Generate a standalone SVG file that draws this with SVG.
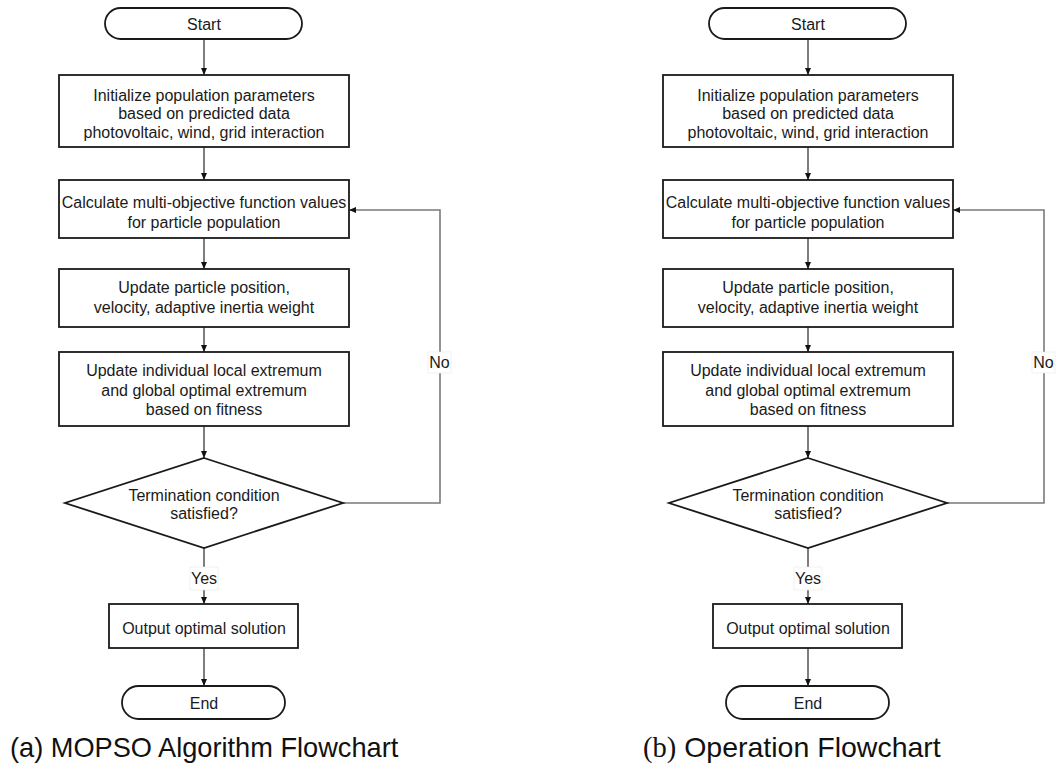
<svg xmlns="http://www.w3.org/2000/svg" width="1057" height="767" viewBox="0 0 1057 767">
<defs>
<style>
.box{fill:#fff;stroke:#1a1a1a;stroke-width:1.8}
.t{font-family:"Liberation Sans",Arial,sans-serif;font-size:16px;fill:#1a1a1a;text-anchor:middle}
.lbl{font-family:"Liberation Sans",Arial,sans-serif;font-size:16px;fill:#1a1a1a;text-anchor:middle}
.lblbg{fill:#fff;stroke:#e6e6e6;stroke-width:0.6}
.arr{fill:none;stroke:#3a3a3a;stroke-width:1.3;marker-end:url(#ah)}
.loop{fill:none;stroke:#7a7a7a;stroke-width:1.6;marker-end:url(#ah)}
.cap{font-family:"Liberation Sans",Arial,sans-serif;fill:#111}
.capserif{font-family:"Liberation Serif","Times New Roman",serif}
</style>
<marker id="ah" viewBox="0 0 7 6" refX="7" refY="3" markerWidth="7" markerHeight="6" markerUnits="userSpaceOnUse" orient="auto">
<path d="M0,0 L7,3 L0,6 z" fill="#111"/>
</marker>
</defs>
<rect width="1057" height="767" fill="#fff"/>

<!-- (a) MOPSO flowchart -->
<g id="chart-a">
<g id="a-connectors">
<path class="arr" d="M204,39 V75"/>
<path class="arr" d="M204,147 V180"/>
<path class="arr" d="M204,238 V269"/>
<path class="arr" d="M204,327 V352"/>
<path class="arr" d="M204,426 V458"/>
<path class="arr" d="M204,548 V604"/>
<path class="arr" d="M204,648 V686"/>
<path class="loop" d="M343,503 H440 V210 H349"/>
<rect class="lblbg" x="428" y="352" width="23" height="21"/>
<text class="lbl" x="439.5" y="368">No</text>
<rect class="lblbg" x="190" y="567" width="28" height="23"/>
<text class="lbl" x="204" y="584">Yes</text>
</g>
<g id="a-start">
<rect class="box" x="105" y="8" width="197" height="31" rx="15.5"/>
<text class="t" x="204" y="29.5">Start</text>
</g>
<g id="a-init">
<rect class="box" x="59" y="75" width="290" height="72"/>
<text class="t" x="204" y="100.5">Initialize population parameters</text>
<text class="t" x="204" y="119">based on predicted data</text>
<text class="t" x="204" y="137.5">photovoltaic, wind, grid interaction</text>
</g>
<g id="a-calc">
<rect class="box" x="59" y="180" width="290" height="58"/>
<text class="t" x="204" y="207.5">Calculate multi-objective function values</text>
<text class="t" x="204" y="227.5">for particle population</text>
</g>
<g id="a-update">
<rect class="box" x="59" y="269" width="290" height="58"/>
<text class="t" x="204" y="293">Update particle position,</text>
<text class="t" x="204" y="313">velocity, adaptive inertia weight</text>
</g>
<g id="a-extremum">
<rect class="box" x="59" y="352" width="290" height="74"/>
<text class="t" x="204" y="376">Update individual local extremum</text>
<text class="t" x="204" y="395.5">and global optimal extremum</text>
<text class="t" x="204" y="415">based on fitness</text>
</g>
<g id="a-decision">
<polygon class="box" points="204,458 343,503 204,548 65,503"/>
<text class="t" x="204" y="501">Termination condition</text>
<text class="t" x="204" y="519">satisfied?</text>
</g>
<g id="a-output">
<rect class="box" x="109" y="604" width="189" height="44"/>
<text class="t" x="204" y="633.5">Output optimal solution</text>
</g>
<g id="a-end">
<rect class="box" x="122" y="686" width="163" height="33" rx="16.5"/>
<text class="t" x="204" y="708.5">End</text>
</g>
<text id="a-caption" class="cap" x="10" y="757" font-size="27.2">(a) MOPSO Algorithm Flowchart</text>
</g>

<!-- (b) Operation flowchart -->
<g id="chart-b" transform="translate(604,0)">
<g id="b-connectors">
<path class="arr" d="M204,39 V75"/>
<path class="arr" d="M204,147 V180"/>
<path class="arr" d="M204,238 V269"/>
<path class="arr" d="M204,327 V352"/>
<path class="arr" d="M204,426 V458"/>
<path class="arr" d="M204,548 V604"/>
<path class="arr" d="M204,648 V686"/>
<path class="loop" d="M343,503 H440 V210 H349"/>
<rect class="lblbg" x="428" y="352" width="23" height="21"/>
<text class="lbl" x="439.5" y="368">No</text>
<rect class="lblbg" x="190" y="567" width="28" height="23"/>
<text class="lbl" x="204" y="584">Yes</text>
</g>
<g id="b-start">
<rect class="box" x="105" y="8" width="197" height="31" rx="15.5"/>
<text class="t" x="204" y="29.5">Start</text>
</g>
<g id="b-init">
<rect class="box" x="59" y="75" width="290" height="72"/>
<text class="t" x="204" y="100.5">Initialize population parameters</text>
<text class="t" x="204" y="119">based on predicted data</text>
<text class="t" x="204" y="137.5">photovoltaic, wind, grid interaction</text>
</g>
<g id="b-calc">
<rect class="box" x="59" y="180" width="290" height="58"/>
<text class="t" x="204" y="207.5">Calculate multi-objective function values</text>
<text class="t" x="204" y="227.5">for particle population</text>
</g>
<g id="b-update">
<rect class="box" x="59" y="269" width="290" height="58"/>
<text class="t" x="204" y="293">Update particle position,</text>
<text class="t" x="204" y="313">velocity, adaptive inertia weight</text>
</g>
<g id="b-extremum">
<rect class="box" x="59" y="352" width="290" height="74"/>
<text class="t" x="204" y="376">Update individual local extremum</text>
<text class="t" x="204" y="395.5">and global optimal extremum</text>
<text class="t" x="204" y="415">based on fitness</text>
</g>
<g id="b-decision">
<polygon class="box" points="204,458 343,503 204,548 65,503"/>
<text class="t" x="204" y="501">Termination condition</text>
<text class="t" x="204" y="519">satisfied?</text>
</g>
<g id="b-output">
<rect class="box" x="109" y="604" width="189" height="44"/>
<text class="t" x="204" y="633.5">Output optimal solution</text>
</g>
<g id="b-end">
<rect class="box" x="122" y="686" width="163" height="33" rx="16.5"/>
<text class="t" x="204" y="708.5">End</text>
</g>
<text id="b-caption" class="cap" x="39" y="757" font-size="28.5"><tspan class="capserif">(b)</tspan> Operation Flowchart</text>
</g>
</svg>
